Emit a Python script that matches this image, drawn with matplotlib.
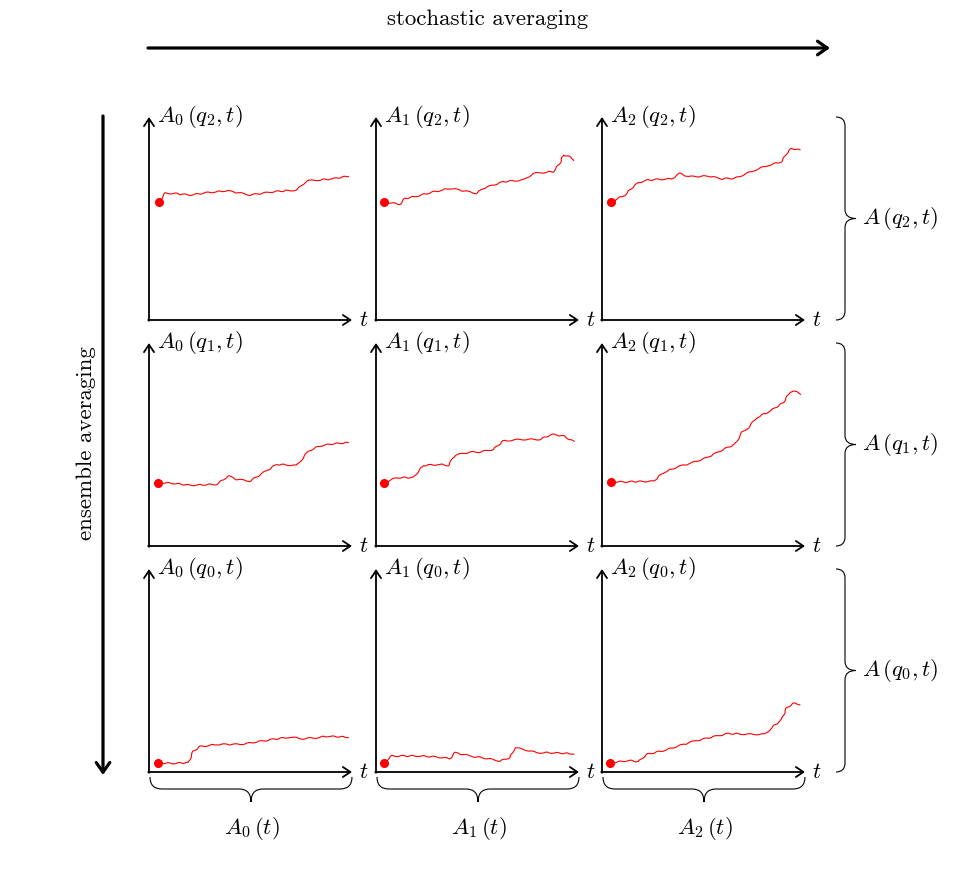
import matplotlib
matplotlib.use("Agg")
import matplotlib.pyplot as plt
from matplotlib.path import Path
from matplotlib.patches import PathPatch

plt.rcParams['mathtext.fontset'] = 'cm'
plt.rcParams['font.family'] = ['cmr10', 'DejaVu Serif']
plt.rcParams['axes.unicode_minus'] = False

# ---------------- data (t, A) ----------------
# row q2
t_A0_q2 = [0.049, 0.079, 0.120, 0.202, 0.284, 0.383, 0.498, 0.612, 0.727, 0.777, 0.842, 0.908, 0.982]
a_A0_q2 = [0.580, 0.624, 0.624, 0.616, 0.627, 0.637, 0.616, 0.632, 0.640, 0.686, 0.690, 0.696, 0.709]
t_A1_q2 = [0.039, 0.085, 0.118, 0.143, 0.192, 0.266, 0.365, 0.496, 0.529, 0.627, 0.726, 0.775, 0.874, 0.906, 0.923, 0.947, 0.975]
a_A1_q2 = [0.580, 0.575, 0.571, 0.599, 0.608, 0.627, 0.649, 0.624, 0.649, 0.681, 0.690, 0.722, 0.731, 0.772, 0.813, 0.808, 0.788]
t_A2_q2 = [0.043, 0.113, 0.146, 0.179, 0.228, 0.343, 0.384, 0.425, 0.524, 0.589, 0.655, 0.754, 0.819, 0.885, 0.910, 0.934, 0.975]
a_A2_q2 = [0.580, 0.616, 0.649, 0.677, 0.690, 0.696, 0.722, 0.706, 0.709, 0.696, 0.698, 0.739, 0.762, 0.780, 0.821, 0.846, 0.837]
# row q1
t_A0_q1 = [0.046, 0.120, 0.202, 0.333, 0.391, 0.432, 0.498, 0.563, 0.629, 0.727, 0.760, 0.785, 0.842, 0.908, 0.982]
a_A0_q1 = [0.312, 0.309, 0.299, 0.304, 0.345, 0.328, 0.320, 0.361, 0.402, 0.397, 0.435, 0.468, 0.493, 0.504, 0.509]
t_A1_q1 = [0.039, 0.102, 0.184, 0.233, 0.315, 0.356, 0.389, 0.463, 0.512, 0.578, 0.627, 0.709, 0.808, 0.865, 0.923, 0.975]
a_A1_q1 = [0.312, 0.337, 0.337, 0.397, 0.402, 0.397, 0.447, 0.463, 0.463, 0.476, 0.517, 0.525, 0.525, 0.550, 0.542, 0.514]
t_A2_q1 = [0.043, 0.253, 0.302, 0.368, 0.433, 0.516, 0.598, 0.655, 0.688, 0.721, 0.762, 0.828, 0.893, 0.926, 0.943, 0.979]
a_A2_q1 = [0.315, 0.319, 0.361, 0.389, 0.406, 0.435, 0.476, 0.501, 0.558, 0.583, 0.632, 0.665, 0.706, 0.759, 0.764, 0.750]
# row q0
t_A0_q0 = [0.046, 0.120, 0.194, 0.218, 0.251, 0.333, 0.448, 0.530, 0.612, 0.695, 0.760, 0.826, 0.875, 0.982]
a_A0_q0 = [0.043, 0.043, 0.046, 0.103, 0.125, 0.136, 0.136, 0.148, 0.161, 0.172, 0.164, 0.169, 0.176, 0.172]
t_A1_q0 = [0.039, 0.077, 0.135, 0.217, 0.299, 0.365, 0.389, 0.463, 0.545, 0.611, 0.660, 0.685, 0.726, 0.791, 0.857, 0.975]
a_A1_q0 = [0.044, 0.079, 0.079, 0.079, 0.074, 0.067, 0.095, 0.079, 0.067, 0.054, 0.071, 0.120, 0.112, 0.095, 0.095, 0.090]
t_A2_q0 = [0.039, 0.130, 0.179, 0.220, 0.294, 0.376, 0.458, 0.540, 0.622, 0.721, 0.803, 0.836, 0.885, 0.910, 0.943, 0.975]
a_A2_q0 = [0.044, 0.057, 0.051, 0.087, 0.103, 0.128, 0.153, 0.172, 0.189, 0.186, 0.186, 0.218, 0.259, 0.317, 0.338, 0.333]

panel_t = [[t_A0_q2, t_A1_q2, t_A2_q2], [t_A0_q1, t_A1_q1, t_A2_q1], [t_A0_q0, t_A1_q0, t_A2_q0]]
panel_a = [[a_A0_q2, a_A1_q2, a_A2_q2], [a_A0_q1, a_A1_q1, a_A2_q1], [a_A0_q0, a_A1_q0, a_A2_q0]]

row_q = ['2', '1', '0']          # top to bottom
col_idx = ['0', '1', '2']        # left to right
top_label = 'stochastic averaging'
left_label = 'ensemble averaging'

# ---------------- layout (pixels) ----------------
W, H = 956, 888
col_x0 = [149, 376, 602]
row_y0 = [320, 546, 772]
S = 203

fig = plt.figure(figsize=(W / 100, H / 100), dpi=100)
ov = fig.add_axes([0, 0, 1, 1])
ov.set_xlim(0, W)
ov.set_ylim(H, 0)
ov.axis('off')

FS = 16.5
arrow_kw = dict(arrowstyle='->,head_length=0.45,head_width=0.3', lw=1.3, color='black',
                shrinkA=0, shrinkB=0, mutation_scale=12)

for r in range(3):
    for c in range(3):
        ax = fig.add_axes([col_x0[c] / W, 1 - row_y0[r] / H, S / W, S / H])
        ax.set_xlim(0, 1)
        ax.set_ylim(0, 1)
        ax.axis('off')
        ax.annotate('', xy=(1, 0), xytext=(-0.004, 0), xycoords='axes fraction', arrowprops=arrow_kw)
        ax.annotate('', xy=(0, 1), xytext=(0, -0.004), xycoords='axes fraction', arrowprops=arrow_kw)
        ax.text(0.04, 1.0, r'$A_{%s}\,(q_{%s},t)$' % (col_idx[c], row_q[r]), transform=ax.transAxes,
                ha='left', va='center', fontsize=FS)
        ax.text(1.035, 0.0, r'$t$', transform=ax.transAxes, ha='left', va='center', fontsize=FS)
        tt, aa = panel_t[r][c], panel_a[r][c]
        ln, = ax.plot(tt, aa, color='red', lw=0.8, solid_joinstyle='round', clip_on=False)
        ln.set_sketch_params(scale=0.6, length=12, randomness=2)
        ax.plot(tt[0], aa[0], 'o', color='red', ms=5.5, clip_on=False)

# top arrow
ov.annotate('', xy=(830, 48), xytext=(148, 48), xycoords='data',
            arrowprops=dict(arrowstyle='->,head_length=0.5,head_width=0.35', lw=2.3, color='black',
                            shrinkA=0, shrinkB=0, mutation_scale=14))
ov.text(488, 19, top_label, ha='center', va='center', fontsize=FS)
# left arrow
ov.annotate('', xy=(103, 775), xytext=(103, 116), xycoords='data',
            arrowprops=dict(arrowstyle='->,head_length=0.5,head_width=0.35', lw=2.3, color='black',
                            shrinkA=0, shrinkB=0, mutation_scale=14))
ov.text(86, 443, left_label, ha='center', va='center', rotation=90, fontsize=FS)


def brace_h(x1, x2, y, h, d):
    xm = (x1 + x2) / 2
    verts = [(x1, y), (x1, y + h), (x1 + h, y + h),
             (xm - h, y + h),
             (xm, y + h), (xm, y + d),
             (xm, y + h), (xm + h, y + h),
             (x2 - h, y + h),
             (x2, y + h), (x2, y)]
    codes = [Path.MOVETO, Path.CURVE3, Path.CURVE3, Path.LINETO, Path.CURVE3, Path.CURVE3,
             Path.CURVE3, Path.CURVE3, Path.LINETO, Path.CURVE3, Path.CURVE3]
    return Path(verts, codes)


def brace_v(y1, y2, x, h, d):
    ym = (y1 + y2) / 2
    verts = [(x, y1), (x + h, y1), (x + h, y1 + h),
             (x + h, ym - h),
             (x + h, ym), (x + d, ym),
             (x + h, ym), (x + h, ym + h),
             (x + h, y2 - h),
             (x + h, y2), (x, y2)]
    codes = [Path.MOVETO, Path.CURVE3, Path.CURVE3, Path.LINETO, Path.CURVE3, Path.CURVE3,
             Path.CURVE3, Path.CURVE3, Path.LINETO, Path.CURVE3, Path.CURVE3]
    return Path(verts, codes)


for c in range(3):
    ov.add_patch(PathPatch(brace_h(col_x0[c] + 1, col_x0[c] + S, 777, 12, 25), fc='none', ec='black', lw=0.8))
    ov.text(col_x0[c] + S / 2 + 1, 828, r'$A_{%s}\,(t)$' % col_idx[c], ha='center', va='center', fontsize=FS)

for r in range(3):
    ov.add_patch(PathPatch(brace_v(row_y0[r] - S, row_y0[r], 836, 9, 20), fc='none', ec='black', lw=0.8))
    ov.text(862, row_y0[r] - S / 2, r'$A\,(q_{%s},t)$' % row_q[r], ha='left', va='center', fontsize=FS)

fig.savefig('out.png', dpi=100)
